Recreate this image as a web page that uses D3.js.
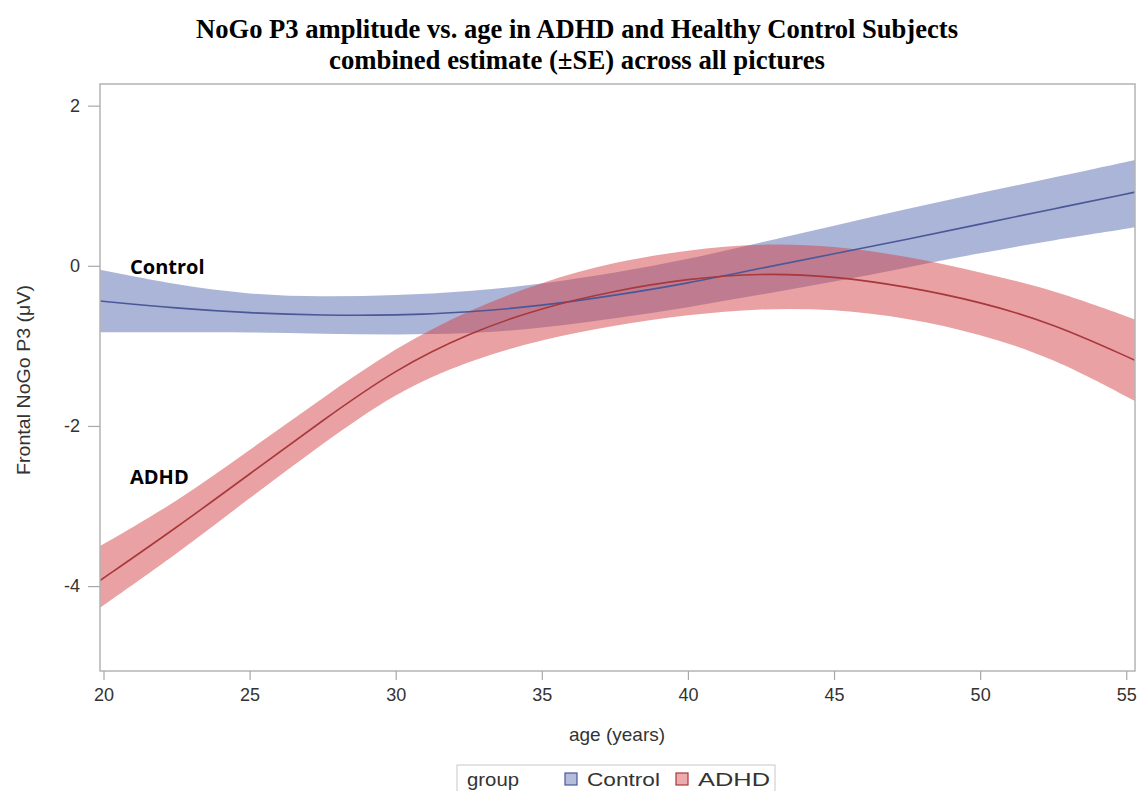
<!DOCTYPE html>
<html>
<head>
<meta charset="utf-8">
<script src="https://cdn.jsdelivr.net/npm/d3@7"></script>
<style>
  body { margin: 0; background: #fff; }
  svg { display: block; }
  .tick text { font-family: "Liberation Sans", Arial, sans-serif; font-size: 18px; fill: #333; }
  .axis path { display: none; }
  .axis line { stroke: #a8a8a8; stroke-width: 1.2; }
</style>
</head>
<body>
<div id="chart"></div>
<script>
// ages (years) where the curves were read
const ages = [19.88, 22.5, 25, 27.5, 30, 32.5, 35, 37.5, 40, 42.5, 45, 47.5, 50, 52.5, 55.3]

// Control group: estimate and +/- SE band
const controlMean  = [-0.44, -0.53, -0.59, -0.62, -0.62, -0.58, -0.50, -0.37, -0.22, -0.03, 0.15, 0.33, 0.52, 0.71, 0.92]
const controlUpper = [-0.05, -0.24, -0.36, -0.39, -0.37, -0.32, -0.23, -0.09, 0.08, 0.29, 0.50, 0.71, 0.91, 1.10, 1.32]
const controlLower = [-0.83, -0.83, -0.83, -0.85, -0.86, -0.85, -0.78, -0.66, -0.52, -0.36, -0.20, -0.02, 0.16, 0.32, 0.48]

// ADHD group: estimate and +/- SE band
const adhdMean  = [-3.93, -3.27, -2.60, -1.93, -1.29, -0.84, -0.52, -0.31, -0.16, -0.09, -0.13, -0.26, -0.45, -0.72, -1.18]
const adhdUpper = [-3.50, -2.95, -2.30, -1.65, -1.02, -0.55, -0.20, 0.05, 0.20, 0.28, 0.25, 0.12, -0.08, -0.30, -0.67]
const adhdLower = [-4.27, -3.60, -2.90, -2.22, -1.58, -1.18, -0.92, -0.74, -0.61, -0.53, -0.54, -0.65, -0.85, -1.15, -1.69]

const xTicks = [20, 25, 30, 35, 40, 45, 50, 55]
const yTicks = [2, 0, -2, -4]

const titleLines = ["NoGo P3 amplitude vs. age in ADHD and Healthy Control Subjects",
                    "combined estimate (\u00B1SE) across all pictures"]
const groups = ["Control", "ADHD"]

const width = 1139, height = 791
const plot = {left: 100, right: 1135, top: 84, bottom: 671}

const svg = d3.select("#chart").append("svg")
  .attr("width", width)
  .attr("height", height)

const x = d3.scaleLinear().domain([19.88, 55.3]).range([plot.left, plot.right])
const y = d3.scaleLinear().domain([-5.06, 2.27]).range([plot.bottom, plot.top])

//Title
svg.selectAll(".title")
  .data(titleLines)
  .enter()
  .append("text")
  .attr("class", "title")
  .attr("x", 577)
  .attr("y", (d, i) => 38 + i * 31)
  .attr("text-anchor", "middle")
  .attr("textLength", (d, i) => i === 0 ? 762 : 496)
  .attr("lengthAdjust", "spacingAndGlyphs")
  .style("font-family", "'Liberation Serif', 'Times New Roman', serif")
  .style("font-weight", "bold")
  .style("font-size", "28px")
  .text(d => d)

const series = [
  {name: "Control", mean: controlMean, upper: controlUpper, lower: controlLower,
   fill: "rgb(88,108,178)", line: "#4a5898"},
  {name: "ADHD", mean: adhdMean, upper: adhdUpper, lower: adhdLower,
   fill: "rgb(212,68,72)", line: "#a8383c"}
]

svg.append("clipPath").attr("id", "plotclip")
  .append("rect")
  .attr("x", plot.left).attr("y", plot.top)
  .attr("width", plot.right - plot.left).attr("height", plot.bottom - plot.top)

const chart = svg.append("g").attr("clip-path", "url(#plotclip)")

const area = d3.area()
  .x((d, i) => x(ages[i]))
  .y0(d => y(d[0]))
  .y1(d => y(d[1]))
  .curve(d3.curveBasis)

const line = d3.line()
  .x((d, i) => x(ages[i]))
  .y(d => y(d))
  .curve(d3.curveBasis)

series.forEach(s => {
  chart.append("path")
    .datum(s.lower.map((v, i) => [v, s.upper[i]]))
    .attr("d", area)
    .attr("fill", s.fill)
    .attr("fill-opacity", 0.5)
})

series.forEach(s => {
  chart.append("path")
    .datum(s.mean)
    .attr("d", line)
    .attr("fill", "none")
    .attr("stroke", s.line)
    .attr("stroke-width", 1.6)
})

//Frame
svg.append("rect")
  .attr("x", plot.left).attr("y", plot.top)
  .attr("width", plot.right - plot.left).attr("height", plot.bottom - plot.top)
  .attr("fill", "none")
  .attr("stroke", "#b4b4b4")
  .attr("stroke-width", 1.5)

//Axes
svg.append("g")
  .attr("class", "axis")
  .attr("transform", "translate(0," + plot.bottom + ")")
  .call(d3.axisBottom(x).tickValues(xTicks).tickSize(9).tickPadding(8))

svg.append("g")
  .attr("class", "axis")
  .attr("transform", "translate(" + plot.left + ",0)")
  .call(d3.axisLeft(y).tickValues(yTicks).tickSize(12).tickPadding(8).tickFormat(d => d))

svg.append("text")
  .attr("x", 617)
  .attr("y", 741)
  .attr("text-anchor", "middle")
  .style("font-family", "'Liberation Sans', Arial, sans-serif")
  .style("font-size", "19px")
  .style("fill", "#333")
  .text("age (years)")

svg.append("text")
  .attr("transform", "translate(30,380) rotate(-90)")
  .attr("text-anchor", "middle")
  .attr("textLength", 190)
  .attr("lengthAdjust", "spacingAndGlyphs")
  .style("font-family", "'Liberation Sans', Arial, sans-serif")
  .style("font-size", "18px")
  .style("fill", "#333")
  .text("Frontal NoGo P3 (\u03BCV)")

//Group labels inside the plot
svg.append("text")
  .attr("x", 130).attr("y", 274)
  .style("font-family", "'Open Sans', 'Noto Sans', sans-serif")
  .style("font-weight", "bold")
  .style("font-size", "20px")
  .text(groups[0])

svg.append("text")
  .attr("x", 130).attr("y", 484)
  .style("font-family", "'Open Sans', 'Noto Sans', sans-serif")
  .style("font-weight", "bold")
  .style("font-size", "20px")
  .text(groups[1])

//Legend
const legend = svg.append("g").attr("transform", "translate(457,765)")
legend.append("rect")
  .attr("width", 318).attr("height", 30)
  .attr("fill", "#fff")
  .attr("stroke", "#c8c8c8")

const legendFont = "'Liberation Sans', Arial, sans-serif"
legend.append("text")
  .attr("x", 10).attr("y", 21)
  .attr("textLength", 52)
  .attr("lengthAdjust", "spacingAndGlyphs")
  .style("font-family", legendFont).style("font-size", "19px").style("fill", "#333")
  .text("group")

const legendX = [108, 219]
const legendLen = [73, 72]
series.forEach((s, i) => {
  legend.append("rect")
    .attr("x", legendX[i]).attr("y", 8)
    .attr("width", 12).attr("height", 12)
    .attr("fill", s.fill).attr("fill-opacity", 0.45)
    .attr("stroke", s.line).attr("stroke-width", 1.2)
  legend.append("text")
    .attr("x", legendX[i] + 22).attr("y", 21)
    .attr("textLength", legendLen[i])
    .attr("lengthAdjust", "spacingAndGlyphs")
    .style("font-family", legendFont).style("font-size", "19px").style("fill", "#333")
    .text(s.name)
})
</script>
</body>
</html>
